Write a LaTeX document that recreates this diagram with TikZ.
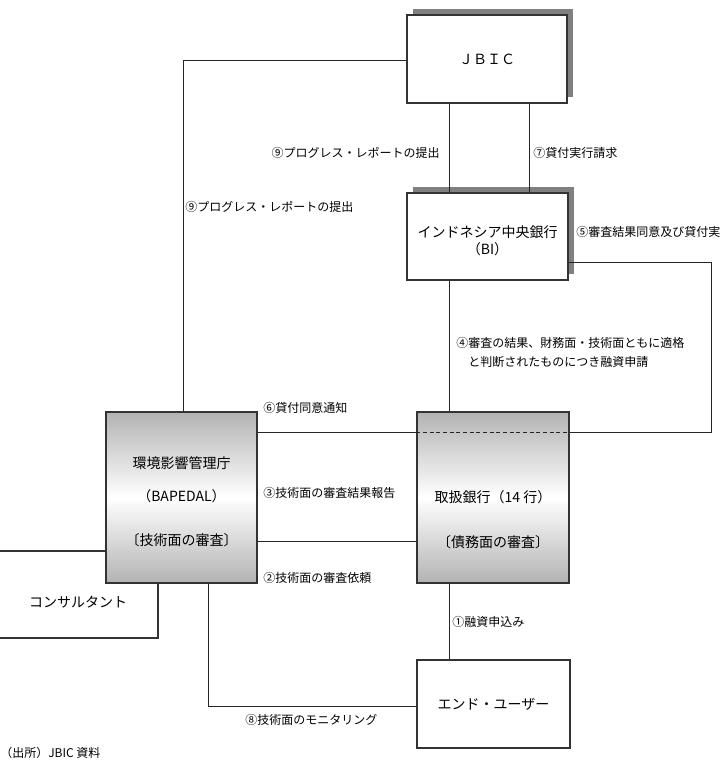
\documentclass[tikz,border=0pt]{standalone}
\usepackage{fontspec}
\setmainfont{Noto Sans CJK JP}
\usetikzlibrary{shadows}
\tikzset{
  box/.style={draw=black!80, line width=1pt, fill=white, inner sep=0pt, align=center,
    font=\fontsize{10.5}{13.5}\selectfont},
  shadowbox/.style={box, drop shadow={shadow xshift=4.5pt, shadow yshift=4.5pt, fill=black!50, opacity=1}},
  gradbox/.style={box, top color=black!30, bottom color=black!30, middle color=white},
  boxtext/.style={inner sep=0pt, align=center, font=\fontsize{10.5}{13}\selectfont},
  lbl/.style={inner sep=0pt, anchor=west, font=\fontsize{9}{14.25}\selectfont},
  conn/.style={draw=black!85, line width=0.6pt},
}
\begin{document}
\begin{tikzpicture}[x=0.75pt, y=-0.75pt]
\useasboundingbox (0,0) rectangle (720,775);

\node[box, minimum width=122.25pt, minimum height=65.25pt] (consultant) at (76.5,594.5) {};
\node[boxtext] (consultanttext) at (78,602) {コンサルタント};

\node[shadowbox, minimum width=120pt, minimum height=66pt] (jbic) at (487,59) {ＪＢＩＣ};
\node[shadowbox, minimum width=120.75pt, minimum height=65.25pt] (bi) at (487.5,236.5) {};
\node[gradbox, minimum width=113.25pt, minimum height=128.25pt] (bapedal) at (181.5,497.5) {};
\node[gradbox, minimum width=114pt, minimum height=128.25pt] (bank) at (493,497.5) {};
\node[box, minimum width=114.75pt, minimum height=66pt] (enduser) at (493.5,704) {エンド・ユーザー};

\node[boxtext] (bitext) at (487.5,241) {インドネシア中央銀行\\（BI）};
\node[boxtext] (bapedaltext) at (181.5,501.5) {環境影響管理庁\\[11.75pt]（BAPEDAL）\\[20pt]〔技術面の審査〕};
\node[boxtext] (banktext) at (493,519.5) {取扱銀行（14 行）\\[20.75pt]〔債務面の審査〕};

\coordinate (pl) at (449,0);
\coordinate (pr) at (529,0);
\coordinate (jx) at (183,60);
\coordinate (rc) at (711,262);
\coordinate (dl) at (0,432);
\coordinate (ml) at (0,541);
\coordinate (ul) at (0,706);
\coordinate (ux) at (208,0);

\draw[conn] (jbic.west |- jx) -| (bapedal.north -| jx);
\draw[conn] (jbic.south -| pl) -- (bi.north -| pl);
\draw[conn] (jbic.south -| pr) -- (bi.north -| pr);
\draw[conn] (bi.south -| pl) -- (bank.north -| pl);
\draw[conn] (bi.east |- rc) -- (rc) |- (bank.east |- dl);
\draw[conn] (bapedal.east |- dl) -- (bank.west |- dl);
\draw[conn, dash pattern=on 3pt off 2pt] (bank.west |- dl) -- (bank.east |- dl);
\draw[conn] (bapedal.east |- ml) -- (bank.west |- ml);
\draw[conn] (bank.south -| pl) -- (enduser.north -| pl);
\draw[conn] (enduser.west |- ul) -| (bapedal.south -| ux);

\node[lbl, anchor=east] (l9a) at (440,153) {⑨プログレス・レポートの提出};
\node[lbl] (l7) at (533,153) {⑦貸付実行請求};
\node[lbl] (l9b) at (185,207) {⑨プログレス・レポートの提出};
\node[lbl] (l5) at (576,232) {⑤審査結果同意及び貸付実};
\node[lbl, align=left] (l4) at (456,352.5) {④審査の結果、財務面・技術面ともに適格\\　と判断されたものにつき融資申請};
\node[lbl] (l6) at (263,408) {⑥貸付同意通知};
\node[lbl] (l3) at (263,493) {③技術面の審査結果報告};
\node[lbl] (l2) at (263,578) {②技術面の審査依頼};
\node[lbl] (l1) at (452,622) {①融資申込み};
\node[lbl] (l8) at (245,720) {⑧技術面のモニタリング};
\node[lbl] (source) at (0,753) {（出所）JBIC 資料};
\end{tikzpicture}
\end{document}
